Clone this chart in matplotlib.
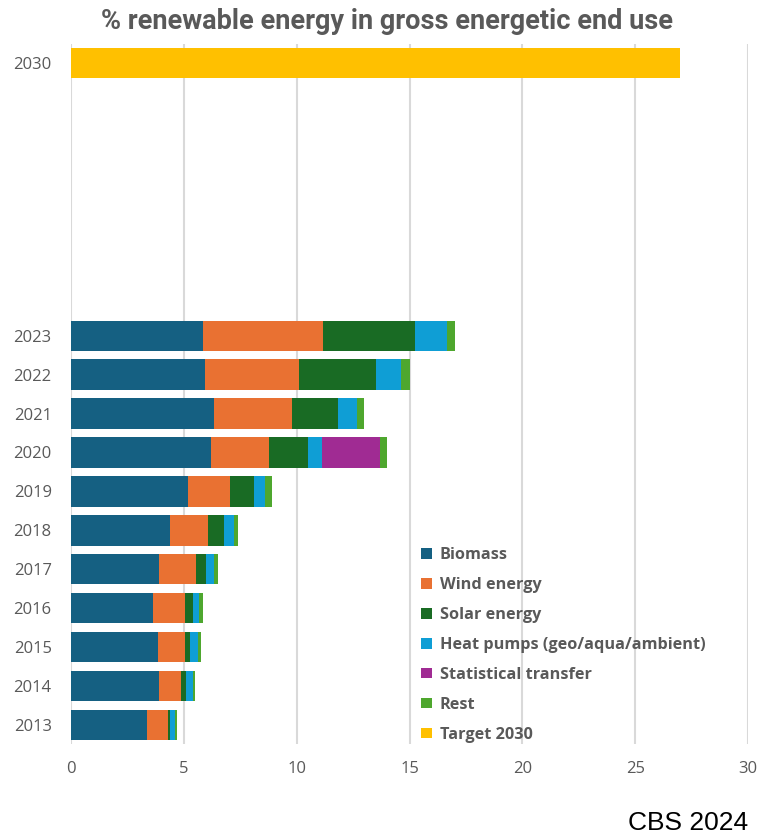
import numpy as np
import matplotlib
matplotlib.use("Agg")
import matplotlib.pyplot as plt

# years shown on the axis; 2024-2029 are left blank as spacing before the target
years = ["2013", "2014", "2015", "2016", "2017", "2018", "2019", "2020", "2021", "2022", "2023",
         "", "", "", "", "", "", "2030"]

biomass = [3.38, 3.90, 3.85, 3.61, 3.90, 4.36, 5.19, 6.18, 6.32, 5.95, 5.86, 0, 0, 0, 0, 0, 0, 0]
wind = [0.92, 0.97, 1.21, 1.45, 1.63, 1.72, 1.87, 2.61, 3.45, 4.16, 5.32, 0, 0, 0, 0, 0, 0, 0]
solar = [0.09, 0.22, 0.22, 0.32, 0.46, 0.71, 1.04, 1.69, 2.06, 3.41, 4.06, 0, 0, 0, 0, 0, 0, 0]
heatpumps = [0.21, 0.32, 0.34, 0.30, 0.33, 0.42, 0.51, 0.65, 0.84, 1.11, 1.40, 0, 0, 0, 0, 0, 0, 0]
stat_transfer = [0, 0, 0, 0, 0, 0, 0, 2.58, 0, 0, 0, 0, 0, 0, 0, 0, 0, 0]
rest = [0.07, 0.06, 0.14, 0.16, 0.17, 0.19, 0.27, 0.31, 0.33, 0.37, 0.37, 0, 0, 0, 0, 0, 0, 0]
target = [0, 0, 0, 0, 0, 0, 0, 0, 0, 0, 0, 0, 0, 0, 0, 0, 0, 27.0]

series = [("Biomass", biomass, "#156082"),
          ("Wind energy", wind, "#e97132"),
          ("Solar energy", solar, "#196b24"),
          ("Heat pumps (geo/aqua/ambient)", heatpumps, "#0f9ed5"),
          ("Statistical transfer", stat_transfer, "#a02b93"),
          ("Rest", rest, "#4ea72e"),
          ("Target 2030", target, "#ffc000")]

grey = "#595959"
plt.rcParams['font.family'] = ['Open Sans', 'DejaVu Sans']

fig = plt.figure(figsize=(7.62, 8.40), dpi=100)
ax = fig.add_axes([0.0934, 0.1137, 0.8882, 0.8343])

y = np.arange(len(years))
left = np.zeros(len(years))
handles = []
for name, vals, col in series:
    vals = np.array(vals)
    h = ax.barh(y, vals, left=left, height=0.78, color=col, label=name, zorder=3)
    handles.append(h)
    left += vals

ax.set_xlim(0, 30)
ax.set_ylim(-0.5, 17.5)
ax.set_xticks([0, 5, 10, 15, 20, 25, 30])
ax.set_yticks(y)
ax.set_yticklabels(years)
ax.tick_params(axis="both", length=0, labelsize=12, colors=grey)
ax.tick_params(axis="x", pad=12)
ax.tick_params(axis="y", pad=14)
ax.grid(axis="x", color="#d9d9d9", linewidth=1.5, zorder=0)
for s in ax.spines.values():
    s.set_visible(False)

leg = ax.legend(handles=handles, loc="upper left", bbox_to_anchor=(0.517, 0.282),
                frameon=False, borderpad=0, borderaxespad=0, handlelength=0.65,
                handleheight=0.65, handletextpad=0.5, labelspacing=0.86,
                prop={"size": 11.7, "weight": "bold"})
for t in leg.get_texts():
    t.set_color(grey)

fig.text(0.508, 0.974, "% renewable energy in gross energetic end use", ha="center", va="center",
         fontsize=19.5, fontweight="bold", color=grey, family=["Roboto", "DejaVu Sans"])
fig.text(0.982, 0.006, "CBS 2024", ha="right", va="bottom", fontsize=19, color="black",
         family=["Liberation Sans", "DejaVu Sans"])

fig.savefig("out.png", dpi=100)
